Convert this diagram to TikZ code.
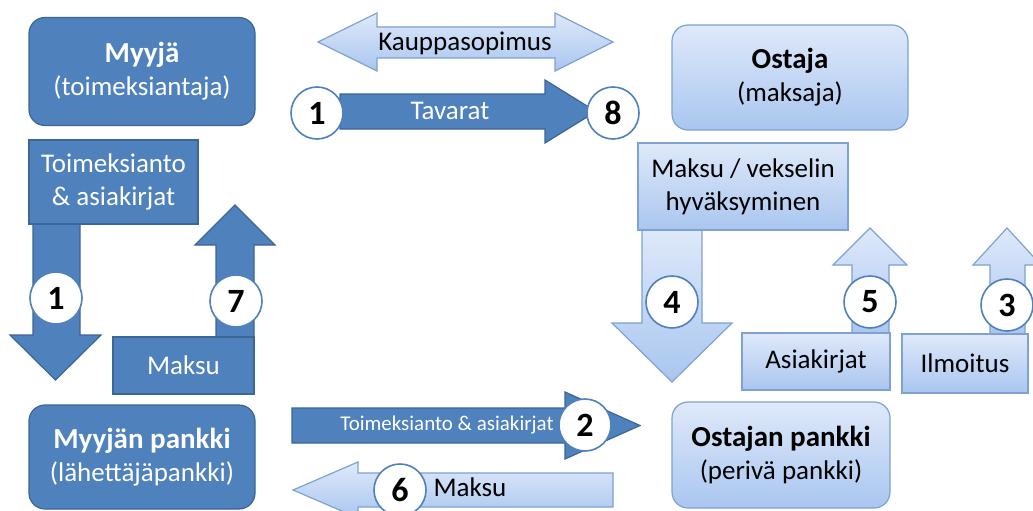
\documentclass[tikz,border=0pt]{standalone}
\usepackage{fontspec}
\setmainfont{Carlito}
\definecolor{tumma}{HTML}{4F81BD}
\definecolor{tummareuna}{HTML}{3B6698}
\definecolor{vaaleayla}{HTML}{DFE9FA}
\definecolor{vaaleaala}{HTML}{A9C6EF}
\definecolor{vaaleareuna}{HTML}{7DA2D3}
\tikzset{
    tumma/.style={fill=tumma, draw=tummareuna, line width=1.2pt, text=white},
    vaalea/.style={top color=vaaleayla, bottom color=vaaleaala, draw=vaaleareuna, line width=1.2pt, text=black},
    laatikko/.style={inner sep=0pt, align=center, font=\fontsize{27}{33}\selectfont},
    pyorea/.style={laatikko, rounded corners=16pt},
    numero/.style={circle, fill=white, draw=tumma, line width=1.6pt, minimum size=52pt, inner sep=0pt, font=\fontsize{34}{34}\selectfont\bfseries}
}
\begin{document}
\begin{tikzpicture}[x=1pt, y=-1pt]
    \clip (0,0) rectangle (1033,511);
    \fill[white] (0,0) rectangle (1033,511);
    \path[vaalea] (318,42) -- (377,13) -- (377,27) -- (555,27) -- (555,13) -- (613,42)
        -- (555,71) -- (555,58) -- (377,58) -- (377,71) -- cycle;
    \path[tumma] (340,94) -- (545,94) -- (545,80) -- (596,111.5) -- (545,143) -- (545,129) -- (340,129) -- cycle;
    \path[tumma] (33,220) -- (80,220) -- (80,335) -- (101,335) -- (55.5,380) -- (10,335) -- (33,335) -- cycle;
    \path[tumma] (216,340) -- (216,245) -- (195,245) -- (235,205) -- (275,245) -- (254,245) -- (254,340) -- cycle;
    \path[vaalea] (642,226) -- (702,226) -- (702,323) -- (732,323) -- (672,382) -- (612,323) -- (642,323) -- cycle;
    \path[vaalea] (852,336) -- (852,265) -- (833,265) -- (870,228) -- (907,265) -- (889,265) -- (889,336) -- cycle;
    \path[vaalea] (990,336) -- (990,265) -- (973,265) -- (1007,228) -- (1041,265) -- (1025,265) -- (1025,336) -- cycle;
    \path[tumma] (292,408) -- (565,408) -- (565,392) -- (640,425.5) -- (565,459) -- (565,443) -- (292,443) -- cycle;
    \path[vaalea] (613,473) -- (358,473) -- (358,462) -- (293,490) -- (358,518) -- (358,507) -- (613,507) -- cycle;

    \node[pyorea, tumma, minimum width=226pt, minimum height=108pt] (myyja) at (142,71.5)
        {\textbf{\fontsize{29}{33}\selectfont Myyjä}\\(toimeksiantaja)};
    \node[laatikko, tumma, minimum width=169pt, minimum height=84pt] (toimeksianto) at (113.5,182)
        {Toimeksianto\\\& asiakirjat};
    \node[laatikko, tumma, minimum width=141pt, minimum height=57pt] (maksuvasen) at (183.5,365.5) {Maksu};
    \node[pyorea, tumma, minimum width=226pt, minimum height=104pt] (myyjanpankki) at (142,457)
        {\textbf{\fontsize{29}{33}\selectfont Myyjän pankki}\\(lähettäjäpankki)};
    \node[pyorea, vaalea, minimum width=236pt, minimum height=105pt] (ostaja) at (790,77.5)
        {\textbf{\fontsize{29}{33}\selectfont Ostaja}\\(maksaja)};
    \node[laatikko, vaalea, minimum width=210pt, minimum height=87pt] (vekseli) at (743,186.5)
        {Maksu / vekselin\\hyväksyminen};
    \node[laatikko, vaalea, minimum width=148pt, minimum height=57pt] (asiakirjat) at (816,361.5) {Asiakirjat};
    \node[laatikko, vaalea, minimum width=126pt, minimum height=59pt] (ilmoitus) at (965,363.5) {Ilmoitus};
    \node[pyorea, vaalea, minimum width=218pt, minimum height=106pt] (ostajanpankki) at (781,455)
        {\textbf{\fontsize{29}{33}\selectfont Ostajan pankki}\\(perivä pankki)};

    \node[laatikko] (kauppasopimus) at (465,43) {Kauppasopimus};
    \node[laatikko, text=white] (tavarat) at (450,111) {Tavarat};
    \node[laatikko, text=white, font=\fontsize{21}{21}\selectfont] (toimeksianto2) at (447,425) {Toimeksianto \& asiakirjat};
    \node[laatikko] (maksualas) at (470,487) {Maksu};

    \node[numero] (n1a) at (317,113) {1};
    \node[numero] (n8) at (613,113) {8};
    \node[numero] (n1b) at (56,298) {1};
    \node[numero] (n7) at (236,301) {7};
    \node[numero] (n4) at (672,302) {4};
    \node[numero] (n5) at (870,302) {5};
    \node[numero] (n3) at (1007,305) {3};
    \node[numero] (n2) at (585,425) {2};
    \node[numero] (n6) at (400,490) {6};
\end{tikzpicture}
\end{document}
